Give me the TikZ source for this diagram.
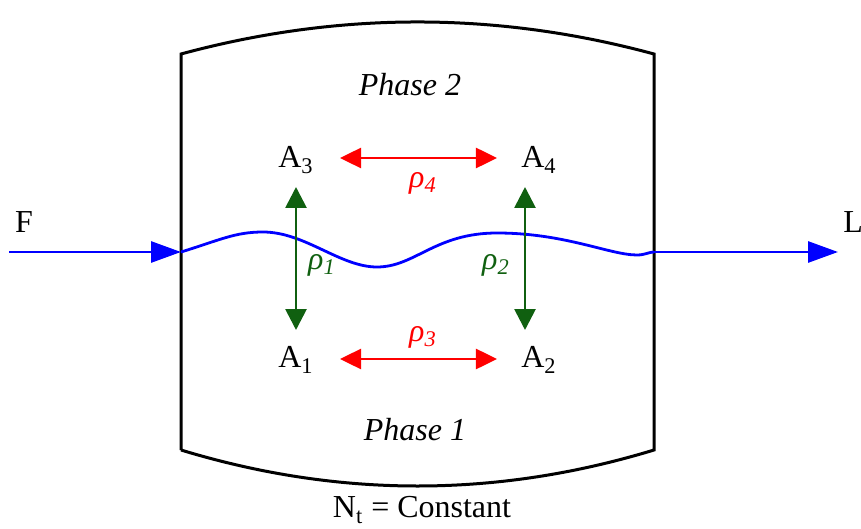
\documentclass[tikz,border=0pt]{standalone}
\usepackage{fontspec}
\setmainfont{Liberation Serif}
\usepackage{tikz}
\usetikzlibrary{arrows.meta, positioning, calc}
\definecolor{phasegreen}{RGB}{16,96,16}

\tikzset{
    lbl/.style={font=\fontsize{16}{19}\selectfont, inner sep=1pt},
    flowarrow/.style={-{Triangle[length=15pt, width=10.5pt]}, line width=1.4pt, blue},
    rhoarrow/.style={{Triangle[length=10.5pt, width=10pt]}-{Triangle[length=10.5pt, width=10pt]}, line width=1.4pt, red},
    transarrow/.style={{Triangle[length=10.5pt, width=10.5pt]}-{Triangle[length=10.5pt, width=10.5pt]}, line width=1.4pt, phasegreen}
}

\begin{document}
\begin{tikzpicture}[x=0.5pt, y=-0.5pt]
                \useasboundingbox (0,0) rectangle (861,529);

                % vessel
                \draw[line width=1.5pt] (181,450) -- (181,54) .. controls (338.7,11.3) and (496.3,11.3) .. (654,54)
                    -- (654,450) .. controls (496.3,498) and (338.7,498) .. (181,450);

                % interface
                \coordinate (inlet) at (181,252);
                \coordinate (outlet) at (654,252);
                \draw[blue, line width=1.4pt] (inlet) .. controls (220,240) and (235,232) .. (263,232)
                    .. controls (305,232) and (340,267) .. (377,267)
                    .. controls (415,267) and (435,233) .. (497,233)
                    .. controls (565,233) and (610,255) .. (637,255)
                    .. controls (645,255) and (649,252) .. (outlet);

                % feed and product streams
                \coordinate (feedstart) at (9,252);
                \coordinate (prodend) at (838,252);
                \draw[flowarrow] (feedstart) -- (inlet);
                \draw[flowarrow] (outlet) -- (prodend);
                \node[lbl] (F) at (24,222) {F};
                \node[lbl, anchor=west] (L) at (841,222) {L};

                % species
                \node[lbl] (A3) at (296,160) {A\textsubscript{3}};
                \node[lbl] (A4) at (539,160) {A\textsubscript{4}};
                \node[lbl] (A1) at (296,360) {A\textsubscript{1}};
                \node[lbl] (A2) at (539,360) {A\textsubscript{2}};

                % reactions within each phase
                \draw[rhoarrow] ($(A3.east)+(24,-2)$) coordinate (r4a) -- ($(A4.west)+(-22,-2)$) coordinate (r4b);
                \draw[rhoarrow] ($(A1.east)+(24,-1)$) coordinate (r3a) -- ($(A2.west)+(-22,-1)$) coordinate (r3b);
                \node[lbl, red] (rho4) at (423,183) {\itshape ρ\textsubscript{4}};
                \node[lbl, red] (rho3) at (423,337) {\itshape ρ\textsubscript{3}};

                % transfer between phases
                \coordinate (t1a) at (296,330);
                \coordinate (t1b) at (296,187);
                \coordinate (t2a) at (525,330);
                \coordinate (t2b) at (525,187);
                \draw[transarrow] (t1a) -- (t1b);
                \draw[transarrow] (t2a) -- (t2b);
                \node[lbl, phasegreen] (rho1) at (322,265) {\itshape ρ\textsubscript{1}};
                \node[lbl, phasegreen] (rho2) at (496,265) {\itshape ρ\textsubscript{2}};

                % phase labels
                \node[lbl] (phase2) at (410,85) {\itshape Phase 2};
                \node[lbl] (phase1) at (415,430) {\itshape Phase 1};
                \node[lbl] (total) at (422,510) {N\textsubscript{t} = Constant};
\end{tikzpicture}
\end{document}
